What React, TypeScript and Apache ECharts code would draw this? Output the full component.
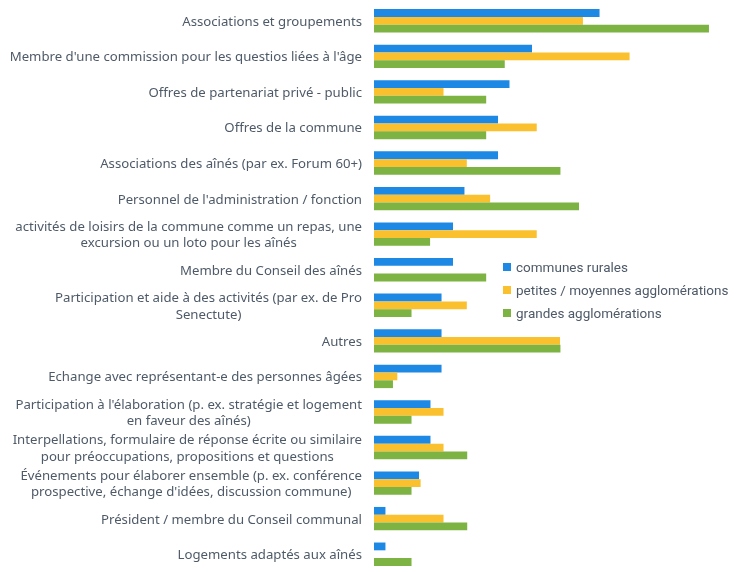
import React, { useEffect, useRef } from "react";
import * as echarts from "echarts";

const categories = [
  "Associations et groupements",
  "Membre d'une commission pour les questios liées à l'âge",
  "Offres de partenariat privé - public",
  "Offres de la commune",
  "Associations des aînés (par ex. Forum 60+)",
  "Personnel de l'administration / fonction",
  "activités de loisirs de la commune comme un repas, une\nexcursion ou un loto pour les aînés",
  "Membre du Conseil des aînés",
  "Participation et aide à des activités (par ex. de Pro\nSenectute)",
  "Autres",
  "Echange avec représentant-e des personnes âgées",
  "Participation à l'élaboration (p. ex. stratégie et logement\nen faveur des aînés)",
  "Interpellations, formulaire de réponse écrite ou similaire\npour préoccupations, propositions et questions",
  "Événements pour élaborer ensemble (p. ex. conférence\nprospective, échange d'idées, discussion commune)",
  "Président / membre du Conseil communal",
  "Logements adaptés aux aînés",
];

const seriesNames = [
  "communes rurales",
  "petites / moyennes agglomérations",
  "grandes agglomérations",
];

// percentages
const rurales = [57.1, 40.0, 34.3, 31.4, 31.4, 22.9, 20.0, 20.0, 17.1, 17.1, 17.1, 14.3, 14.3, 11.4, 2.9, 2.9];
const petites = [52.9, 64.7, 17.6, 41.2, 23.5, 29.4, 41.2, 0, 23.5, 47.1, 5.9, 17.6, 17.6, 11.8, 17.6, 0];
const grandes = [84.8, 33.1, 28.4, 28.4, 47.2, 51.9, 14.2, 28.4, 9.5, 47.2, 4.8, 9.5, 23.6, 9.5, 23.6, 9.5];

const colors = ["#1e88e5", "#fbc02d", "#7cb342"];

export default function App() {
  const ref = useRef<HTMLDivElement>(null);
  useEffect(() => {
    if (!ref.current) return;
    const chart = echarts.init(ref.current, null, { renderer: "svg" });
    const dataSets = [rurales, petites, grandes];
    chart.setOption({
      animation: false,
      color: colors,
      grid: { left: 374, top: 3, width: 355.5, height: 576, containLabel: false },
      xAxis: {
        type: "value",
        min: 0,
        max: 90,
        show: false,
      },
      yAxis: {
        type: "category",
        inverse: true,
        data: categories,
        axisLine: { show: false },
        axisTick: { show: false },
        axisLabel: {
          margin: 12,
          fontFamily: "Noto Sans",
          fontSize: 13.2,
          color: "#4e5a68",
          lineHeight: 16.5,
          formatter: (v: string) =>
            v.split("\n").map((l) => "{c|" + l + "}").join("\n"),
          rich: {
            c: {
              align: "center",
              fontFamily: "Noto Sans",
              fontSize: 13.2,
              color: "#4e5a68",
              lineHeight: 16.5,
            },
          },
        },
      },
      legend: {
        orient: "vertical",
        left: 498,
        top: 255,
        icon: "rect",
        itemWidth: 8,
        itemHeight: 8,
        itemGap: 9,
        textStyle: { fontFamily: "Roboto", fontSize: 13.5, color: "#4e5a68" },
        data: seriesNames,
      },
      series: seriesNames.map((name, i) => ({
        name,
        type: "bar",
        data: dataSets[i],
        barWidth: 7.8,
        barGap: "0%",
        itemStyle: { color: colors[i] },
      })),
    });
    return () => chart.dispose();
  }, []);
  return (
    <div
      ref={ref}
      style={{ position: "fixed", left: 0, top: 0, width: 741, height: 572 }}
    />
  );
}
